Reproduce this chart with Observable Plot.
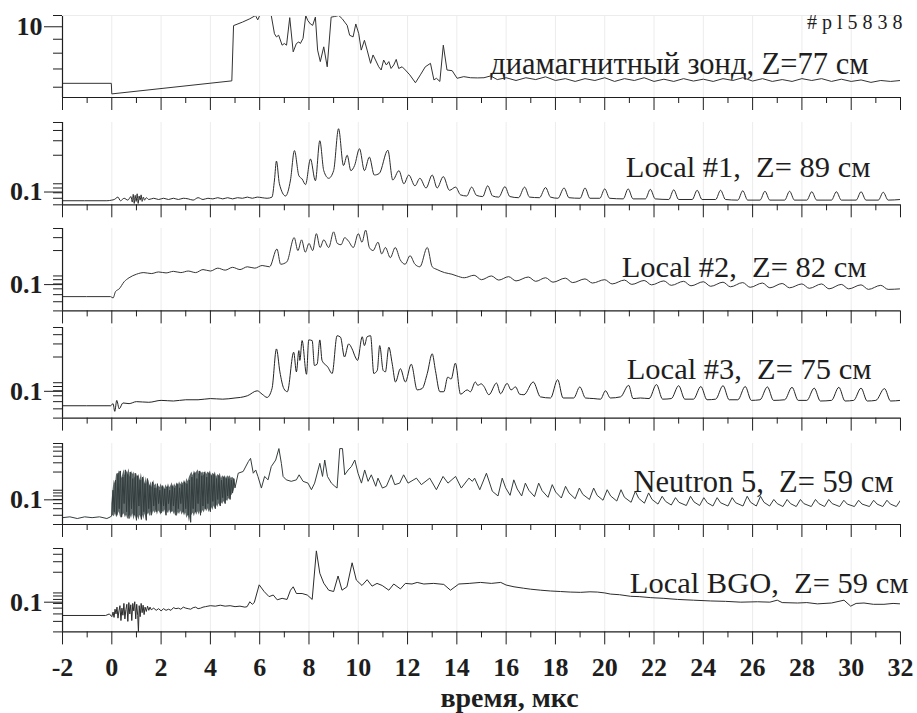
<!DOCTYPE html>
<html>
<head>
<meta charset="utf-8">
<script src="https://cdn.jsdelivr.net/npm/d3@7"></script>
<script src="https://cdn.jsdelivr.net/npm/@observablehq/plot@0.6"></script>
<style>
  html, body { margin: 0; padding: 0; background: #fff; }
  #chart { position: relative; width: 917px; height: 713px; overflow: hidden; }
  #chart svg { position: absolute; left: 0; }
</style>
</head>
<body>
<div id="chart"></div>
<script>
// Time axis ticks (μs)
const timeMajor = [-2, 0, 2, 4, 6, 8, 10, 12, 14, 16, 18, 20, 22, 24, 26, 28, 30, 32];
const timeMinor = [-1, 1, 3, 5, 7, 9, 11, 13, 15, 17, 19, 21, 23, 25, 27, 29, 31];
const gridTimes = [0, 2, 4, 6, 8, 10, 12, 14, 16, 18, 20, 22, 24, 26, 28, 30];

const shotLabel = "#pl5838";
const axisTitle = "время, мкс";
const seriesLabels = [
  "диамагнитный зонд, Z=77 см",
  "Local #1,\u00a0 Z= 89 см",
  "Local #2,\u00a0 Z= 82 см",
  "Local #3,\u00a0 Z= 75 см",
  "Neutron 5,\u00a0 Z= 59 см",
  "Local BGO,\u00a0 Z= 59 см"
];

// Diamagnetic probe signal [t, value]
const diamag = [[-2,6.2],[-0.02,6.2],[0,5.67],[4.87,6.33],[4.94,10.1],[5.3,10.4],[5.6,10.7],[5.83,11],[5.92,10.6],[6.0,11],[6.47,11],[6.6,9.43],[6.68,9.18],[6.77,9.31],[6.91,8.56],[7.0,8.68],[7.09,8.56],[7.22,10.8],[7.36,8.09],[7.49,8.68],[7.59,8.8],[7.65,8.68],[7.76,9.07],[7.87,11],[7.95,10.55],[8.06,10.24],[8.15,10.12],[8.26,10.85],[8.35,8.21],[8.46,7.45],[8.6,8.44],[8.74,7.13],[8.9,10.85],[9.03,10.9],[9.21,11],[9.35,10.7],[9.45,10.4],[9.55,10.12],[9.65,9.31],[9.79,9.18],[9.9,10.24],[10.02,9.43],[10.12,8.21],[10.25,8.92],[10.36,8.21],[10.5,7.34],[10.6,7.88],[10.7,7.55],[10.83,7.13],[10.93,6.94],[11.03,7.55],[11.14,7.24],[11.24,7.45],[11.33,7.03],[11.44,7.24],[11.54,7.59],[11.64,7.03],[11.78,7.13],[11.91,6.94],[12.09,6.66],[12.32,6.23],[12.52,6.66],[12.72,7.13],[12.93,7.34],[13.07,6.38],[13.17,6.47],[13.31,6.3],[13.45,8.56],[13.6,6.94],[13.81,6.9],[14.01,6.47],[14.28,6.56],[14.56,6.5],[14.83,6.49],[15.1,6.5],[15.37,6.6],[15.64,6.4],[16.0,6.5],[16.4,6.35],[16.8,6.5],[17.2,6.4],[17.6,6.55],[18.0,6.35],[18.4,6.45],[18.8,6.3],[19.2,6.45],[19.6,6.35],[20.0,6.5],[20.4,6.3],[20.8,6.45],[21.2,6.35],[21.6,6.5],[22.0,6.3],[22.4,6.42],[22.8,6.3],[23.2,6.45],[23.6,6.32],[24.0,6.42],[24.4,6.3],[24.8,6.45],[25.2,6.35],[25.6,6.5],[26.0,6.32],[26.4,6.45],[26.8,6.3],[27.2,6.4],[27.6,6.3],[28.0,6.45],[28.4,6.35],[28.8,6.45],[29.2,6.3],[29.6,6.42],[30.0,6.3],[30.4,6.38],[30.8,6.25],[31.2,6.35],[31.6,6.3],[32,6.35]];

// Local #1, Z = 89 cm
const local1 = [[-2,0.056],[-0.2,0.056],[0,0.057],[0.1,0.058],[0.25,0.062],[0.35,0.056],[0.5,0.06],[0.65,0.057],[0.78,0.063],[0.83,0.054],[0.87,0.067],[0.91,0.052],[0.95,0.065],[0.99,0.055],[1.03,0.068],[1.07,0.052],[1.11,0.064],[1.15,0.057],[1.19,0.066],[1.23,0.055],[1.28,0.062],[1.33,0.057],[1.4,0.061],[1.5,0.058],[1.7,0.06],[1.9,0.058],[2.1,0.06],[2.3,0.058],[2.5,0.06],[2.7,0.058],[2.9,0.06],[3.1,0.059],[3.3,0.057],[3.5,0.061],[3.7,0.058],[3.9,0.06],[4.1,0.059],[4.3,0.061],[4.5,0.059],[4.7,0.061],[4.9,0.059],[5.1,0.061],[5.3,0.06],[5.5,0.062],[5.7,0.06],[5.9,0.062],[6.1,0.061],[6.3,0.06],[6.5,0.062],[6.6,0.1],[6.68,0.17],[6.8,0.09],[7.05,0.064],[7.25,0.1],[7.41,0.228],[7.59,0.113],[7.72,0.103],[7.86,0.088],[8.06,0.18],[8.26,0.098],[8.44,0.30],[8.6,0.13],[8.8,0.105],[9.0,0.13],[9.2,0.42],[9.4,0.15],[9.55,0.2],[9.7,0.13],[9.85,0.15],[10.05,0.24],[10.25,0.13],[10.45,0.19],[10.65,0.115],[10.85,0.12],[11.2,0.23],[11.4,0.1],[11.65,0.13],[11.85,0.09],[12.05,0.115],[12.3,0.085],[12.5,0.105],[12.75,0.08],[13.0,0.115],[13.2,0.08],[13.45,0.11],[13.7,0.075],[13.95,0.082],[14.15,0.066],[14.4,0.064],[14.6,0.082],[14.8,0.065],[15.05,0.063],[15.25,0.085],[15.45,0.064],[15.7,0.062],[15.95,0.083],[16.15,0.063],[16.5,0.061],[16.75,0.082],[16.95,0.062],[17.35,0.061],[17.6,0.081],[17.8,0.062],[18.1,0.06],[18.35,0.08],[18.55,0.061],[19.0,0.06],[19.2,0.08],[19.4,0.06],[19.8,0.06],[20.0,0.078],[20.2,0.06],[20.75,0.059],[20.95,0.078],[21.15,0.059],[21.65,0.059],[21.85,0.077],[22.05,0.059],[22.6,0.058],[22.8,0.076],[23.0,0.058],[23.55,0.058],[23.75,0.075],[23.95,0.058],[24.5,0.058],[24.7,0.075],[24.9,0.058],[25.4,0.057],[25.6,0.074],[25.8,0.057],[26.3,0.057],[26.5,0.073],[26.7,0.057],[27.3,0.057],[27.5,0.073],[27.7,0.057],[28.2,0.057],[28.4,0.072],[28.6,0.057],[29.2,0.057],[29.4,0.072],[29.6,0.057],[30.2,0.057],[30.4,0.072],[30.6,0.057],[31.1,0.057],[31.3,0.071],[31.5,0.057],[32,0.058]];

// Local #2, Z = 82 cm
const local2 = [[-2,0.047],[-0.05,0.047],[0.05,0.045],[0.15,0.055],[0.3,0.06],[0.5,0.075],[0.7,0.085],[1.0,0.095],[1.3,0.1],[1.6,0.097],[1.9,0.102],[2.2,0.099],[2.5,0.104],[2.8,0.1],[3.1,0.105],[3.4,0.1],[3.7,0.11],[4.0,0.105],[4.3,0.115],[4.6,0.108],[4.9,0.118],[5.2,0.11],[5.5,0.12],[5.8,0.115],[6.1,0.125],[6.4,0.12],[6.7,0.21],[6.85,0.13],[7.1,0.14],[7.4,0.3],[7.55,0.2],[7.7,0.28],[7.85,0.19],[8.0,0.25],[8.15,0.2],[8.3,0.34],[8.45,0.22],[8.6,0.28],[8.8,0.22],[9.0,0.36],[9.15,0.25],[9.3,0.24],[9.45,0.3],[9.6,0.27],[9.8,0.22],[10.0,0.34],[10.15,0.26],[10.3,0.38],[10.45,0.22],[10.6,0.2],[10.8,0.26],[10.95,0.18],[11.1,0.22],[11.3,0.16],[11.5,0.22],[11.7,0.15],[11.9,0.13],[12.1,0.17],[12.3,0.13],[12.5,0.12],[12.8,0.22],[13.0,0.12],[13.2,0.11],[13.5,0.1],[13.8,0.095],[14.0,0.09],[14.3,0.085],[14.7,0.092],[15.0,0.08],[15.4,0.09],[15.7,0.079],[16.1,0.088],[16.4,0.077],[16.9,0.087],[17.2,0.076],[17.6,0.085],[17.9,0.074],[18.4,0.084],[18.7,0.073],[19.2,0.082],[19.5,0.072],[20.0,0.08],[20.3,0.07],[20.8,0.079],[21.1,0.069],[21.6,0.078],[21.9,0.068],[22.4,0.077],[22.7,0.067],[23.2,0.076],[23.5,0.066],[24.0,0.075],[24.3,0.065],[24.8,0.074],[25.1,0.064],[25.6,0.073],[25.9,0.063],[26.4,0.072],[26.7,0.062],[27.2,0.071],[27.5,0.062],[28.0,0.07],[28.3,0.061],[28.8,0.07],[29.1,0.06],[29.6,0.069],[29.9,0.06],[30.4,0.068],[30.7,0.059],[31.2,0.067],[31.5,0.059],[32,0.06]];

// Local #3, Z = 75 cm
const local3 = [[-2,0.044],[-0.05,0.044],[0.05,0.047],[0.12,0.037],[0.2,0.052],[0.3,0.04],[0.45,0.048],[0.7,0.047],[1.0,0.05],[1.5,0.049],[2.0,0.052],[2.5,0.051],[3.0,0.053],[3.5,0.053],[4.0,0.055],[4.5,0.054],[5.0,0.056],[5.22,0.057],[5.5,0.06],[5.9,0.07],[6.1,0.063],[6.3,0.057],[6.5,0.075],[6.68,0.257],[6.82,0.126],[6.98,0.075],[7.12,0.068],[7.38,0.232],[7.49,0.126],[7.59,0.244],[7.63,0.18],[7.72,0.333],[7.9,0.117],[7.99,0.34],[8.13,0.333],[8.22,0.154],[8.33,0.16],[8.44,0.34],[8.53,0.18],[8.76,0.147],[8.94,0.12],[9.14,0.387],[9.28,0.37],[9.44,0.2],[9.61,0.3],[9.75,0.257],[9.88,0.2],[9.97,0.18],[10.16,0.375],[10.25,0.285],[10.36,0.375],[10.5,0.387],[10.63,0.12],[10.77,0.132],[10.87,0.285],[11.01,0.132],[11.1,0.126],[11.24,0.271],[11.38,0.16],[11.51,0.092],[11.71,0.139],[11.91,0.092],[12.15,0.16],[12.39,0.072],[12.59,0.075],[12.8,0.12],[13.0,0.221],[13.13,0.132],[13.31,0.068],[13.47,0.068],[13.63,0.107],[13.77,0.101],[13.94,0.165],[14.15,0.063],[14.42,0.072],[14.55,0.068],[14.75,0.092],[14.85,0.083],[14.99,0.087],[15.1,0.08],[15.3,0.062],[15.61,0.089],[15.77,0.064],[16.04,0.088],[16.2,0.072],[16.38,0.079],[16.55,0.063],[16.72,0.062],[17.1,0.092],[17.39,0.058],[17.8,0.056],[18.09,0.099],[18.31,0.056],[18.74,0.056],[18.99,0.079],[19.22,0.056],[19.56,0.055],[19.83,0.054],[20.03,0.07],[20.23,0.056],[20.64,0.058],[20.97,0.083],[21.15,0.055],[21.45,0.056],[21.8,0.055],[22.1,0.085],[22.35,0.054],[22.7,0.055],[23.0,0.082],[23.25,0.054],[23.6,0.054],[23.9,0.08],[24.15,0.053],[24.5,0.054],[24.8,0.082],[25.05,0.053],[25.4,0.053],[25.7,0.08],[25.95,0.052],[26.3,0.053],[26.6,0.079],[26.85,0.052],[27.3,0.053],[27.6,0.078],[27.85,0.052],[28.2,0.052],[28.5,0.076],[28.75,0.051],[29.2,0.052],[29.5,0.078],[29.75,0.051],[30.1,0.052],[30.4,0.076],[30.65,0.051],[31.0,0.052],[31.35,0.075],[31.6,0.051],[32,0.052]];

// Neutron 5, Z = 59 cm: fast-oscillation envelope [t, low, high] during 0–5 μs
const neutronBand = [[0.00,0.027,0.05],[0.05,0.03,0.09],[0.10,0.028,0.14],[0.15,0.032,0.12],[0.20,0.027,0.19],[0.25,0.03,0.17],[0.30,0.035,0.21],[0.35,0.028,0.2],[0.40,0.026,0.15],[0.45,0.03,0.18],[0.50,0.032,0.22],[0.55,0.027,0.17],[0.60,0.03,0.21],[0.65,0.025,0.19],[0.70,0.028,0.23],[0.75,0.03,0.16],[0.80,0.026,0.21],[0.85,0.032,0.18],[0.90,0.024,0.2],[0.95,0.03,0.15],[1.00,0.025,0.19],[1.05,0.028,0.16],[1.10,0.024,0.18],[1.15,0.03,0.14],[1.20,0.026,0.19],[1.25,0.03,0.13],[1.30,0.025,0.17],[1.35,0.032,0.12],[1.40,0.024,0.16],[1.45,0.03,0.12],[1.50,0.033,0.14],[1.55,0.028,0.11],[1.60,0.035,0.13],[1.65,0.03,0.1],[1.70,0.036,0.14],[1.75,0.032,0.11],[1.80,0.038,0.12],[1.85,0.03,0.095],[1.90,0.036,0.11],[1.95,0.034,0.1],[2.00,0.03,0.12],[2.05,0.036,0.1],[2.10,0.033,0.11],[2.15,0.038,0.095],[2.20,0.03,0.115],[2.25,0.035,0.1],[2.30,0.032,0.12],[2.35,0.038,0.1],[2.40,0.031,0.11],[2.45,0.036,0.125],[2.50,0.034,0.1],[2.55,0.03,0.12],[2.60,0.036,0.105],[2.65,0.028,0.125],[2.70,0.034,0.11],[2.75,0.031,0.13],[2.80,0.036,0.115],[2.85,0.03,0.13],[2.90,0.034,0.12],[2.95,0.029,0.14],[3.00,0.033,0.12],[3.05,0.026,0.15],[3.10,0.03,0.13],[3.15,0.022,0.16],[3.20,0.028,0.18],[3.25,0.03,0.2],[3.30,0.033,0.17],[3.35,0.028,0.21],[3.40,0.034,0.19],[3.45,0.03,0.2],[3.50,0.035,0.22],[3.55,0.03,0.18],[3.60,0.036,0.21],[3.65,0.032,0.19],[3.70,0.037,0.2],[3.75,0.033,0.17],[3.80,0.04,0.21],[3.85,0.035,0.18],[3.90,0.04,0.2],[3.95,0.034,0.19],[4.00,0.038,0.21],[4.05,0.042,0.17],[4.10,0.037,0.19],[4.15,0.045,0.18],[4.20,0.04,0.2],[4.25,0.047,0.16],[4.30,0.042,0.18],[4.35,0.05,0.17],[4.40,0.045,0.19],[4.45,0.052,0.15],[4.50,0.048,0.17],[4.55,0.055,0.16],[4.60,0.05,0.17],[4.65,0.058,0.15],[4.70,0.055,0.17],[4.75,0.062,0.16],[4.80,0.06,0.17],[4.85,0.07,0.15],[4.90,0.075,0.16],[4.95,0.085,0.15],[5.00,0.1,0.14]];

// Neutron 5 trace [t, value]
const neutron5 = [[-2,0.027],[-1.7,0.028],[-1.4,0.026],[-1.1,0.028],[-0.8,0.027],[-0.5,0.028],[-0.2,0.026],[-0.05,0.028],[0.00,0.03],[0.05,0.09],[0.10,0.035],[0.15,0.14],[0.20,0.03],[0.25,0.19],[0.30,0.04],[0.35,0.21],[0.40,0.028],[0.45,0.16],[0.50,0.05],[0.55,0.22],[0.60,0.035],[0.65,0.18],[0.70,0.026],[0.75,0.2],[0.80,0.04],[0.85,0.15],[0.90,0.03],[0.95,0.19],[1.00,0.024],[1.05,0.17],[1.10,0.045],[1.15,0.14],[1.20,0.025],[1.25,0.16],[1.30,0.035],[1.35,0.12],[1.40,0.024],[1.45,0.15],[1.50,0.04],[1.55,0.11],[1.60,0.03],[1.65,0.13],[1.70,0.045],[1.75,0.1],[1.80,0.035],[1.85,0.12],[1.90,0.05],[1.95,0.09],[2.00,0.033],[2.05,0.11],[2.10,0.045],[2.15,0.095],[2.20,0.03],[2.25,0.105],[2.30,0.05],[2.35,0.09],[2.40,0.035],[2.45,0.11],[2.50,0.045],[2.55,0.1],[2.60,0.03],[2.65,0.12],[2.70,0.04],[2.75,0.1],[2.80,0.05],[2.85,0.115],[2.90,0.035],[2.95,0.13],[3.00,0.04],[3.05,0.12],[3.10,0.03],[3.15,0.14],[3.20,0.022],[3.25,0.16],[3.30,0.04],[3.35,0.19],[3.40,0.035],[3.45,0.15],[3.50,0.05],[3.55,0.21],[3.60,0.03],[3.65,0.17],[3.70,0.045],[3.75,0.2],[3.80,0.04],[3.85,0.16],[3.90,0.05],[3.95,0.19],[4.00,0.035],[4.05,0.17],[4.10,0.055],[4.15,0.18],[4.20,0.04],[4.25,0.15],[4.30,0.06],[4.35,0.17],[4.40,0.045],[4.45,0.14],[4.50,0.065],[4.55,0.16],[4.60,0.05],[4.65,0.15],[4.70,0.07],[4.75,0.15],[4.80,0.06],[4.85,0.14],[4.90,0.08],[4.95,0.15],[5.00,0.1],[5.13,0.19],[5.33,0.205],[5.54,0.316],[5.63,0.365],[5.74,0.19],[5.84,0.219],[5.93,0.165],[6.07,0.099],[6.2,0.165],[6.34,0.142],[6.47,0.254],[6.65,0.339],[6.78,0.56],[6.88,0.293],[6.95,0.165],[7.08,0.142],[7.28,0.133],[7.49,0.142],[7.6,0.177],[7.76,0.133],[7.96,0.123],[8.1,0.092],[8.23,0.123],[8.44,0.293],[8.55,0.165],[8.64,0.339],[8.75,0.165],[8.91,0.123],[9.05,0.107],[9.14,0.099],[9.25,0.56],[9.36,0.56],[9.45,0.177],[9.59,0.219],[9.72,0.254],[9.86,0.339],[9.99,0.19],[10.13,0.123],[10.26,0.219],[10.4,0.133],[10.53,0.177],[10.71,0.107],[10.8,0.153],[10.98,0.099],[11.14,0.107],[11.34,0.177],[11.48,0.115],[11.68,0.123],[11.84,0.177],[12.02,0.123],[12.36,0.153],[12.56,0.115],[12.9,0.153],[13.17,0.092],[13.44,0.165],[13.64,0.123],[13.95,0.165],[14.18,0.099],[14.49,0.153],[14.63,0.133],[14.72,0.153],[14.93,0.092],[15.2,0.19],[15.44,0.086],[15.67,0.07],[15.84,0.153],[15.98,0.1],[16.16,0.072],[16.31,0.142],[16.45,0.095],[16.63,0.07],[16.78,0.123],[16.92,0.09],[17.15,0.068],[17.32,0.123],[17.46,0.088],[17.7,0.066],[17.87,0.115],[18.01,0.083],[18.24,0.064],[18.41,0.107],[18.55,0.08],[18.8,0.062],[18.97,0.099],[19.11,0.075],[19.38,0.06],[19.55,0.099],[19.69,0.072],[19.93,0.058],[20.1,0.092],[20.24,0.07],[20.49,0.056],[20.66,0.092],[20.8,0.066],[21.07,0.053],[21.24,0.086],[21.38,0.063],[21.61,0.051],[21.78,0.08],[21.92,0.06],[22.16,0.049],[22.33,0.069],[22.47,0.055],[22.7,0.047],[22.87,0.065],[23.01,0.053],[23.31,0.046],[23.48,0.069],[23.62,0.054],[23.85,0.046],[24.02,0.065],[24.16,0.052],[24.39,0.045],[24.56,0.065],[24.7,0.052],[25.0,0.045],[25.17,0.065],[25.31,0.052],[25.61,0.045],[25.78,0.069],[25.92,0.053],[26.15,0.045],[26.32,0.069],[26.46,0.053],[26.69,0.045],[26.86,0.06],[27.0,0.05],[27.23,0.044],[27.4,0.06],[27.54,0.05],[27.77,0.044],[27.94,0.06],[28.08,0.05],[28.38,0.044],[28.55,0.06],[28.69,0.05],[28.92,0.044],[29.09,0.06],[29.23,0.05],[29.53,0.044],[29.7,0.058],[29.84,0.049],[30.13,0.044],[30.3,0.058],[30.44,0.049],[30.74,0.044],[30.91,0.058],[31.05,0.049],[31.28,0.044],[31.45,0.058],[31.59,0.049],[31.83,0.044],[32,0.058]];

// Local BGO, Z = 59 cm
const bgo = [[-2,0.0377],[-0.25,0.0377],[-0.1,0.04],[0,0.036],[0.05,0.043],[0.09,0.035],[0.13,0.048],[0.17,0.04],[0.21,0.052],[0.25,0.034],[0.29,0.045],[0.33,0.055],[0.37,0.031],[0.41,0.05],[0.45,0.038],[0.49,0.06],[0.53,0.033],[0.57,0.047],[0.61,0.058],[0.65,0.03],[0.69,0.062],[0.73,0.04],[0.77,0.057],[0.81,0.031],[0.85,0.06],[0.89,0.045],[0.93,0.064],[0.97,0.033],[1.01,0.058],[1.05,0.038],[1.08,0.02],[1.11,0.055],[1.15,0.036],[1.19,0.06],[1.23,0.042],[1.27,0.056],[1.31,0.039],[1.35,0.052],[1.4,0.044],[1.45,0.054],[1.5,0.046],[1.55,0.052],[1.6,0.047],[1.7,0.05],[1.8,0.046],[1.9,0.049],[2.0,0.045],[2.1,0.049],[2.2,0.046],[2.3,0.048],[2.4,0.046],[2.5,0.051],[2.6,0.049],[2.7,0.05],[2.8,0.048],[2.9,0.052],[3.0,0.05],[3.1,0.049],[3.2,0.048],[3.3,0.051],[3.4,0.052],[3.5,0.049],[3.6,0.05],[3.7,0.052],[3.8,0.053],[3.9,0.054],[4.0,0.055],[4.2,0.054],[4.4,0.056],[4.6,0.054],[4.8,0.055],[5.0,0.053],[5.2,0.054],[5.4,0.052],[5.49,0.053],[5.6,0.064],[5.7,0.058],[5.78,0.062],[5.98,0.123],[6.18,0.095],[6.38,0.078],[6.55,0.083],[6.71,0.069],[6.91,0.073],[7.11,0.070],[7.25,0.1],[7.36,0.114],[7.49,0.088],[7.72,0.088],[7.93,0.083],[8.13,0.070],[8.3,0.456],[8.44,0.192],[8.6,0.131],[8.8,0.1],[9.0,0.095],[9.18,0.173],[9.34,0.1],[9.54,0.114],[9.75,0.288],[9.92,0.148],[10.15,0.12],[10.36,0.15],[10.56,0.117],[10.76,0.13],[10.97,0.12],[11.24,0.1],[11.44,0.127],[11.71,0.105],[11.91,0.13],[12.18,0.127],[12.39,0.135],[12.66,0.127],[13.06,0.13],[13.47,0.125],[13.74,0.1],[14.08,0.127],[14.5,0.13],[14.96,0.135],[15.4,0.13],[15.78,0.135],[16.0,0.122],[16.32,0.114],[16.7,0.108],[16.99,0.104],[17.4,0.1],[17.8,0.097],[18.21,0.095],[18.6,0.093],[19.02,0.092],[19.4,0.094],[19.7,0.093],[20.0,0.09],[20.24,0.086],[20.6,0.084],[21.05,0.079],[21.4,0.078],[21.87,0.075],[22.4,0.073],[22.95,0.07],[23.6,0.068],[24.3,0.066],[24.9,0.065],[25.52,0.063],[26.2,0.064],[26.7,0.063],[27.0,0.068],[27.2,0.062],[27.82,0.061],[28.2,0.062],[28.63,0.059],[29.2,0.061],[29.71,0.068],[29.98,0.054],[30.2,0.06],[30.52,0.061],[30.9,0.058],[31.33,0.058],[31.7,0.06],[32,0.059]];

// Log-scale ticks for each panel
const yMajor = [[10], [0.1], [0.1], [0.1], [0.1], [0.1]];
const yMinor = [
  [6, 7, 8, 9, 11],
  [0.05, 0.06, 0.07, 0.08, 0.09, 0.2, 0.3, 0.4, 0.5],
  [0.03, 0.04, 0.05, 0.06, 0.07, 0.08, 0.09, 0.2, 0.3, 0.4],
  [0.03, 0.04, 0.05, 0.06, 0.07, 0.08, 0.09, 0.2, 0.3, 0.4, 0.5],
  [0.02, 0.03, 0.04, 0.05, 0.06, 0.07, 0.08, 0.09, 0.2, 0.3, 0.4, 0.5, 0.6, 0.7],
  [0.02, 0.03, 0.04, 0.05, 0.06, 0.07, 0.08, 0.09, 0.2, 0.3, 0.4, 0.5]
];
const yDomains = [[5.5, 11], [0.05, 0.5], [0.03, 0.4], [0.03, 0.5], [0.02, 0.7], [0.02, 0.5]];

const series = [diamag, local1, local2, local3, neutron5, bgo];

// Panel frame placement (top edge, frame height) and label offsets
const layout = [
  {top: 15,    h: 82,   labelDx: -32, labelBase: 73.3, majorDy: 0},
  {top: 122,   h: 82.3, labelDx: -30, labelBase: 177,  majorDy: 12},
  {top: 228.3, h: 82.4, labelDx: -34, labelBase: 277,  majorDy: 12},
  {top: 326.7, h: 90.6, labelDx: -29, labelBase: 378,  majorDy: 12},
  {top: 443.3, h: 81,   labelDx: -7,  labelBase: 491.7, majorDy: 12},
  {top: 548.3, h: 83.4, labelDx: 8,   labelBase: 593.3, majorDy: 12}
];

const serif = "Liberation Serif, Tinos, Times New Roman, serif";
const ink = "#1e1e1e";
const lineColors = ["#333", "#2b2b2b", "#333", "#222", "#343d3d", "#2b2b2b"];
const curves = ["linear", "monotone-x", "monotone-x", "monotone-x", "linear", "linear"];
const labelSize = 30.5;

const chart = document.getElementById("chart");

layout.forEach((L, i) => {
  const last = i === layout.length - 1;
  const mt = 14;
  const mb = last ? 713 - (L.top + L.h) : 16;
  const marks = [
    Plot.ruleX(gridTimes, {stroke: "#ececec", strokeWidth: 1})
  ];
  if (i === 4) {
    marks.push(Plot.areaY(neutronBand, {x: d => d[0], y1: d => d[1], y2: d => d[2],
      fill: "#3a4545", fillOpacity: 0.8, curve: "linear"}));
  }
  marks.push(
    Plot.line(series[i], {x: d => d[0], y: d => d[1], stroke: lineColors[i], strokeWidth: 1,
      curve: curves[i], clip: true}),
    Plot.ruleX([-2], {stroke: ink, strokeWidth: 1.2}),
    Plot.ruleY([yDomains[i][0]], {stroke: ink, strokeWidth: 1.2}),
    Plot.axisY(yMajor[i], {anchor: "left", tickSize: 18, tickPadding: 2, tickFormat: d => String(d),
      fontSize: 26, fontWeight: "bold", fontFamily: serif, dy: L.majorDy, label: null}),
    Plot.axisY(yMinor[i], {anchor: "left", tickSize: 9, tickFormat: () => "", label: null}),
    Plot.axisX(timeMajor, {anchor: "bottom", tickSize: 13, tickPadding: 13,
      tickFormat: last ? (d => String(d)) : () => "", fontSize: 26, fontWeight: "bold", fontFamily: serif, label: null}),
    Plot.axisX(timeMinor, {anchor: "bottom", tickSize: 6, tickFormat: () => "", label: null}),
    Plot.text([seriesLabels[i]], {frameAnchor: "top-right", textAnchor: "end", lineAnchor: "top",
      dx: L.labelDx, dy: L.labelBase - L.top - 0.71 * labelSize,
      fontSize: labelSize, fontFamily: serif, fill: ink})
  );
  if (i === 0) {
    marks.push(Plot.ruleY([yDomains[i][1]], {stroke: "#ececec"}));
    marks.push(Plot.text([shotLabel], {frameAnchor: "top-right", textAnchor: "end", lineAnchor: "top",
      dx: 7, dy: 28.3 - 15 - 0.71 * 20, fontSize: 20, fontFamily: serif, fill: ink}));
  }
  if (last) {
    marks.push(Plot.text([axisTitle], {frameAnchor: "bottom", textAnchor: "middle", lineAnchor: "top",
      dx: 28, dy: 707 - (L.top + L.h) - 0.71 * 28,
      fontSize: 28, fontWeight: "bold", fontFamily: serif, fill: ink}));
  }
  const svg = Plot.plot({
    width: 917,
    height: mt + L.h + mb,
    marginLeft: 62,
    marginRight: 17,
    marginTop: mt,
    marginBottom: mb,
    x: {domain: [-2, 32]},
    y: {type: "log", domain: yDomains[i]},
    style: {background: "none", color: ink, fontFamily: serif, overflow: "visible"},
    marks
  });
  // the shot number is set with wide letter spacing
  for (const t of svg.querySelectorAll("text")) {
    if (t.textContent === shotLabel) t.setAttribute("letter-spacing", "5");
  }
  svg.style.top = (L.top - mt) + "px";
  chart.appendChild(svg);
});
</script>
</body>
</html>
